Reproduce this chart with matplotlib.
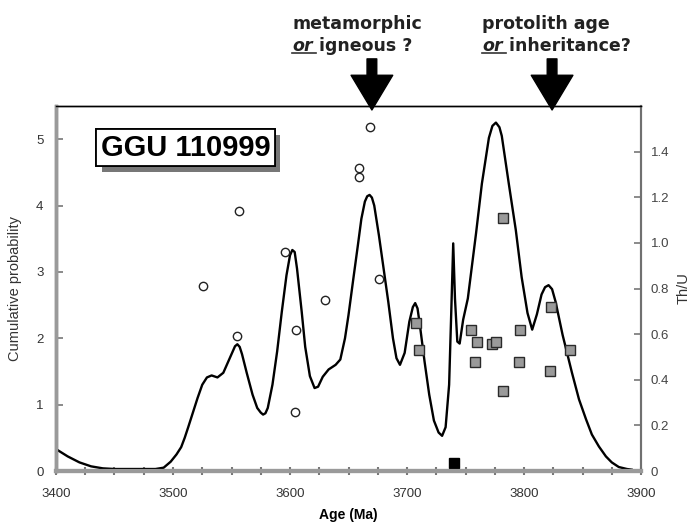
import matplotlib
matplotlib.use("Agg")
import matplotlib.pyplot as plt
import matplotlib.patheffects as pe
from matplotlib.lines import Line2D
from matplotlib.ticker import MultipleLocator

# probability curve (age Ma, cumulative probability)
curve_age = [3400, 3410, 3420, 3430, 3440, 3450, 3470, 3485, 3492, 3498,
             3503, 3507, 3510, 3513, 3517, 3521, 3525, 3529, 3533, 3538,
             3543, 3547, 3551, 3553, 3555, 3557, 3559, 3563, 3568, 3572,
             3575, 3577, 3579, 3581, 3585, 3589, 3593, 3597, 3600, 3602,
             3604, 3606, 3610, 3613, 3617, 3621, 3624, 3628, 3633, 3639,
             3643, 3647, 3650, 3654, 3658, 3661, 3664, 3666, 3668, 3670,
             3672, 3676, 3680, 3684, 3688, 3691, 3694, 3698, 3702, 3705,
             3707, 3709, 3711, 3715, 3719, 3723, 3727, 3730, 3733, 3736,
             3738, 3739.5, 3741, 3743, 3745, 3748, 3752, 3754, 3759, 3764,
             3770, 3773, 3776, 3779, 3781, 3787, 3793, 3798, 3803, 3807,
             3811, 3815, 3818, 3821, 3824, 3827, 3833, 3841, 3847, 3853,
             3858, 3864, 3870, 3875, 3881, 3888, 3892]
curve_prob = [0.33, 0.22, 0.13, 0.07, 0.04, 0.03, 0.03, 0.03, 0.05, 0.14,
              0.25, 0.36, 0.50, 0.66, 0.88, 1.10, 1.30, 1.41, 1.44, 1.41,
              1.48, 1.64, 1.80, 1.88, 1.91, 1.87, 1.76, 1.48, 1.15, 0.95,
              0.88, 0.85, 0.87, 0.95, 1.30, 1.80, 2.40, 2.95, 3.25, 3.33,
              3.30, 3.05, 2.40, 1.87, 1.43, 1.25, 1.27, 1.42, 1.53, 1.60,
              1.68, 2.00, 2.35, 2.88, 3.40, 3.80, 4.06, 4.14, 4.16, 4.12,
              4.00, 3.55, 3.05, 2.55, 2.00, 1.70, 1.60, 1.78, 2.25, 2.47,
              2.53, 2.45, 2.20, 1.65, 1.15, 0.76, 0.58, 0.53, 0.66, 1.30,
              2.50, 3.43, 2.60, 1.95, 1.92, 2.28, 2.60, 2.88, 3.58, 4.33,
              5.02, 5.20, 5.25, 5.18, 5.05, 4.33, 3.63, 2.92, 2.38, 2.13,
              2.36, 2.66, 2.77, 2.80, 2.74, 2.55, 2.05, 1.48, 1.08, 0.78,
              0.55, 0.37, 0.22, 0.13, 0.06, 0.03, 0.02]

# Th/U of analyses (right axis)
circle_age = [3526, 3556, 3555, 3596, 3605, 3604, 3630, 3668, 3659, 3659, 3676]
circle_thu = [0.81, 1.14, 0.59, 0.96, 0.62, 0.26, 0.75, 1.51, 1.33, 1.29, 0.84]

square_age = [3708, 3710, 3755, 3760, 3758, 3773, 3776, 3782, 3782, 3797,
              3796, 3823, 3822, 3839]
square_thu = [0.65, 0.53, 0.62, 0.565, 0.48, 0.555, 0.565, 0.35, 1.11, 0.62,
              0.48, 0.72, 0.44, 0.53]

filled_age = [3740]
filled_thu = [0.034]

arrow_ages = [3670, 3824]
arrow_notes = [("metamorphic", "or", " igneous ?"),
               ("protolith age", "or", " inheritance?")]

fig = plt.figure(figsize=(6.94, 5.25), dpi=100)
ax = fig.add_axes([56 / 694, 54 / 525, 585 / 694, 365 / 525])
ax2 = ax.twinx()

ax.plot(curve_age, curve_prob, color="black", lw=1.7, zorder=3,
        solid_joinstyle="round")
ax.set_xlim(3400, 3900)
ax.set_ylim(0, 5.5)
ax2.set_ylim(0, 1.6)

ax2.plot(circle_age, circle_thu, "o", ms=6, mfc="white", mec="#222222", mew=1.0)
ax2.plot(square_age, square_thu, "s", ms=6.5, mfc="#9a9a9a", mec="#2a2a2a", mew=1.0)
ax2.plot(filled_age, filled_thu, "s", ms=6.5, mfc="black", mec="black", clip_on=False)

# spines
for a in (ax, ax2):
    a.spines["top"].set_color("black")
    a.spines["top"].set_linewidth(1.0)
    a.spines["left"].set_color("#9a9a9a")
    a.spines["left"].set_linewidth(2.5)
    a.spines["bottom"].set_color("#9a9a9a")
    a.spines["bottom"].set_linewidth(3.0)
    a.spines["right"].set_color("#707070")
    a.spines["right"].set_linewidth(1.5)

tick_font = dict(family="Liberation Sans", size=9.5)
ax.xaxis.set_major_locator(MultipleLocator(100))
ax.xaxis.set_minor_locator(MultipleLocator(25))
ax.yaxis.set_major_locator(MultipleLocator(1))
ax.tick_params(axis="x", which="both", direction="inout", length=6, width=1.5,
               color="#777777", labelcolor="#333333", pad=9)
ax.tick_params(axis="y", direction="in", length=5, width=1.2, color="#777777",
               labelcolor="#333333", pad=9)
ax2.tick_params(axis="y", direction="in", length=5, width=1.2, color="#777777",
                labelcolor="#444444", pad=7)
for lab in ax.get_xticklabels() + ax.get_yticklabels():
    lab.set_fontproperties(tick_font)
ax2.set_yticks([0, 0.2, 0.4, 0.6, 0.8, 1.0, 1.2, 1.4])
ax2.set_yticklabels(["0", "0.2", "0.4", "0.6", "0.8", "1.0", "1.2", "1.4"],
                    fontdict=tick_font)

ax.set_xlabel("Age (Ma)", fontsize=10, fontweight="bold", family="Liberation Sans",
              labelpad=6)
ax.set_ylabel("Cumulative probability", fontsize=10.5, family="Liberation Sans",
              color="#333333", labelpad=10)
ax2.set_ylabel("Th/U", fontsize=10.5, family="Liberation Sans", color="#333333",
               labelpad=5)

# sample label with drop shadow
t = ax.text(0.2214, 0.886, "GGU 110999", transform=ax.transAxes, ha="center",
            va="center", fontsize=21, fontweight="bold", family="Liberation Sans",
            bbox=dict(boxstyle="square,pad=0.15", fc="white", ec="black", lw=1.3),
            zorder=5)
t.get_bbox_patch().set_path_effects(
    [pe.withSimplePatchShadow(offset=(4, -4), shadow_rgbFace="#777777", alpha=1.0),
     pe.Normal()])

# arrows and notes above the plot
for age in arrow_ages:
    ax.annotate("", xy=(age, 5.44), xytext=(age, 6.21), xycoords="data",
                annotation_clip=False,
                arrowprops=dict(facecolor="black", edgecolor="black", width=7,
                                headwidth=30, headlength=25, shrink=0))

note_x = [292, 482]
note_font = dict(family="DejaVu Sans", fontweight="bold", fontsize=12.5,
                 color="#222222")
or_texts = []
for nx, (line1, word, rest) in zip(note_x, arrow_notes):
    fig.text(nx / 694, 1 - 29 / 525, line1, va="baseline", ha="left", **note_font)
    t_or = fig.text(nx / 694, 1 - 51 / 525, word, va="baseline", ha="left",
                    style="italic", **note_font)
    ax.annotate(rest, xy=(1, 0), xycoords=t_or, va="bottom", ha="left",
                annotation_clip=False, **note_font)
    or_texts.append(t_or)

fig.canvas.draw()
for t_or in or_texts:
    bb = t_or.get_window_extent()
    y = bb.y0 + 2
    fig.add_artist(Line2D([bb.x0, bb.x1 + 3], [y, y], transform=None,
                          color="#333333", lw=1.2))

fig.savefig("out.png", dpi=100)
